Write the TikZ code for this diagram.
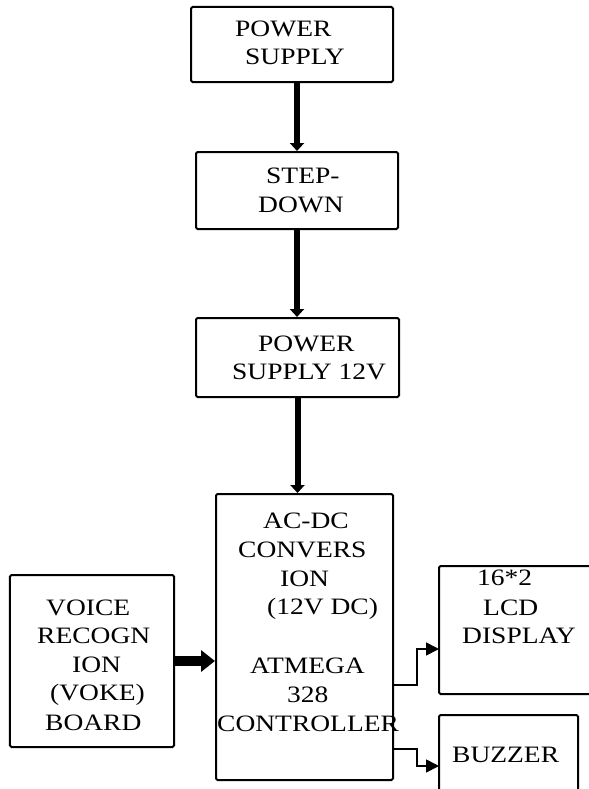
\documentclass[tikz,border=0pt]{standalone}
\usepackage{fontspec}
\setmainfont[FakeStretch=1.17]{Liberation Serif}
\usetikzlibrary{arrows.meta}
\begin{document}
\begin{tikzpicture}[x=1bp,y=-1bp,
  box/.style={draw, line width=2bp, rounded corners=1.5bp, inner sep=0},
  txt/.style={inner sep=0, anchor=base west, font=\fontsize{23.5bp}{28bp}\selectfont},
  bigarrow/.style={line width=6bp, -{Triangle[width=14bp,length=8bp]}},
  fatarrow/.style={line width=10bp, -{Triangle[width=21bp,length=14bp]}},
  thinarrow/.style={line width=1.7bp, -{Triangle[width=13bp,length=13bp]}}]
\clip (0,0) rectangle (589,789);
% boxes
\node[box, minimum width=202bp, minimum height=75bp] (ps1) at (292,44.5) {};
\node[box, minimum width=202bp, minimum height=77bp] (step) at (297,190.5) {};
\node[box, minimum width=203bp, minimum height=79bp] (ps12) at (297.5,357.5) {};
\node[box, minimum width=177bp, minimum height=286bp] (main) at (304.5,637) {};
\node[box, minimum width=164bp, minimum height=172bp] (voice) at (92,661) {};
\node[box, minimum width=181bp, minimum height=128bp] (lcd) at (529.5,630) {};
\node[box, minimum width=139bp, minimum height=95bp] (buzz) at (508.5,762.5) {};
% texts
\node[txt] (a1) at (235,37) {POWER};
\node[txt] (a2) at (245,65) {SUPPLY};
\node[txt] (b1) at (266,183) {STEP-};
\node[txt] (b2) at (258,212) {DOWN};
\node[txt] (c1) at (258,351) {POWER};
\node[txt] (c2) at (232,379) {SUPPLY 12V};
\node[txt] (d1) at (263,528) {AC-DC};
\node[txt] (d2) at (238,557) {CONVERS};
\node[txt] (d3) at (280,586) {ION};
\node[txt] (d4) at (267,614) {(12V DC)};
\node[txt] (d5) at (250,673) {ATMEGA};
\node[txt] (d6) at (287,702) {328};
\node[txt] (d7) at (217,731) {CONTROLLER};
\node[txt] (e1) at (46,615) {VOICE};
\node[txt] (e2) at (37,643) {RECOGN};
\node[txt] (e3) at (72,672) {ION};
\node[txt] (e4) at (50,700) {(VOKE)};
\node[txt] (e5) at (45,730) {BOARD};
\node[txt] (f1) at (477,585) {16*2};
\node[txt] (f2) at (483,615) {LCD};
\node[txt] (f3) at (462,643) {DISPLAY};
\node[txt] (g1) at (452,762) {BUZZER};
% connectors
\draw[bigarrow] (step.north |- ps1.south) -- (step.north);
\draw[bigarrow] (step.south) -- (step.south |- ps12.north);
\draw[bigarrow] (ps12.south) -- (ps12.south |- main.north);
\draw[fatarrow] (voice.east) -- (voice.east -| main.west);
\coordinate (lcdout) at (393,685);
\coordinate (lcdin) at (439,649);
\coordinate (bzout) at (393,749);
\coordinate (bzin) at (439,766);
\draw[thinarrow] (lcdout) -- (417,685) -- (417,649) -- (lcdin);
\draw[thinarrow] (bzout) -- (417,749) -- (417,766) -- (bzin);
\end{tikzpicture}
\end{document}
